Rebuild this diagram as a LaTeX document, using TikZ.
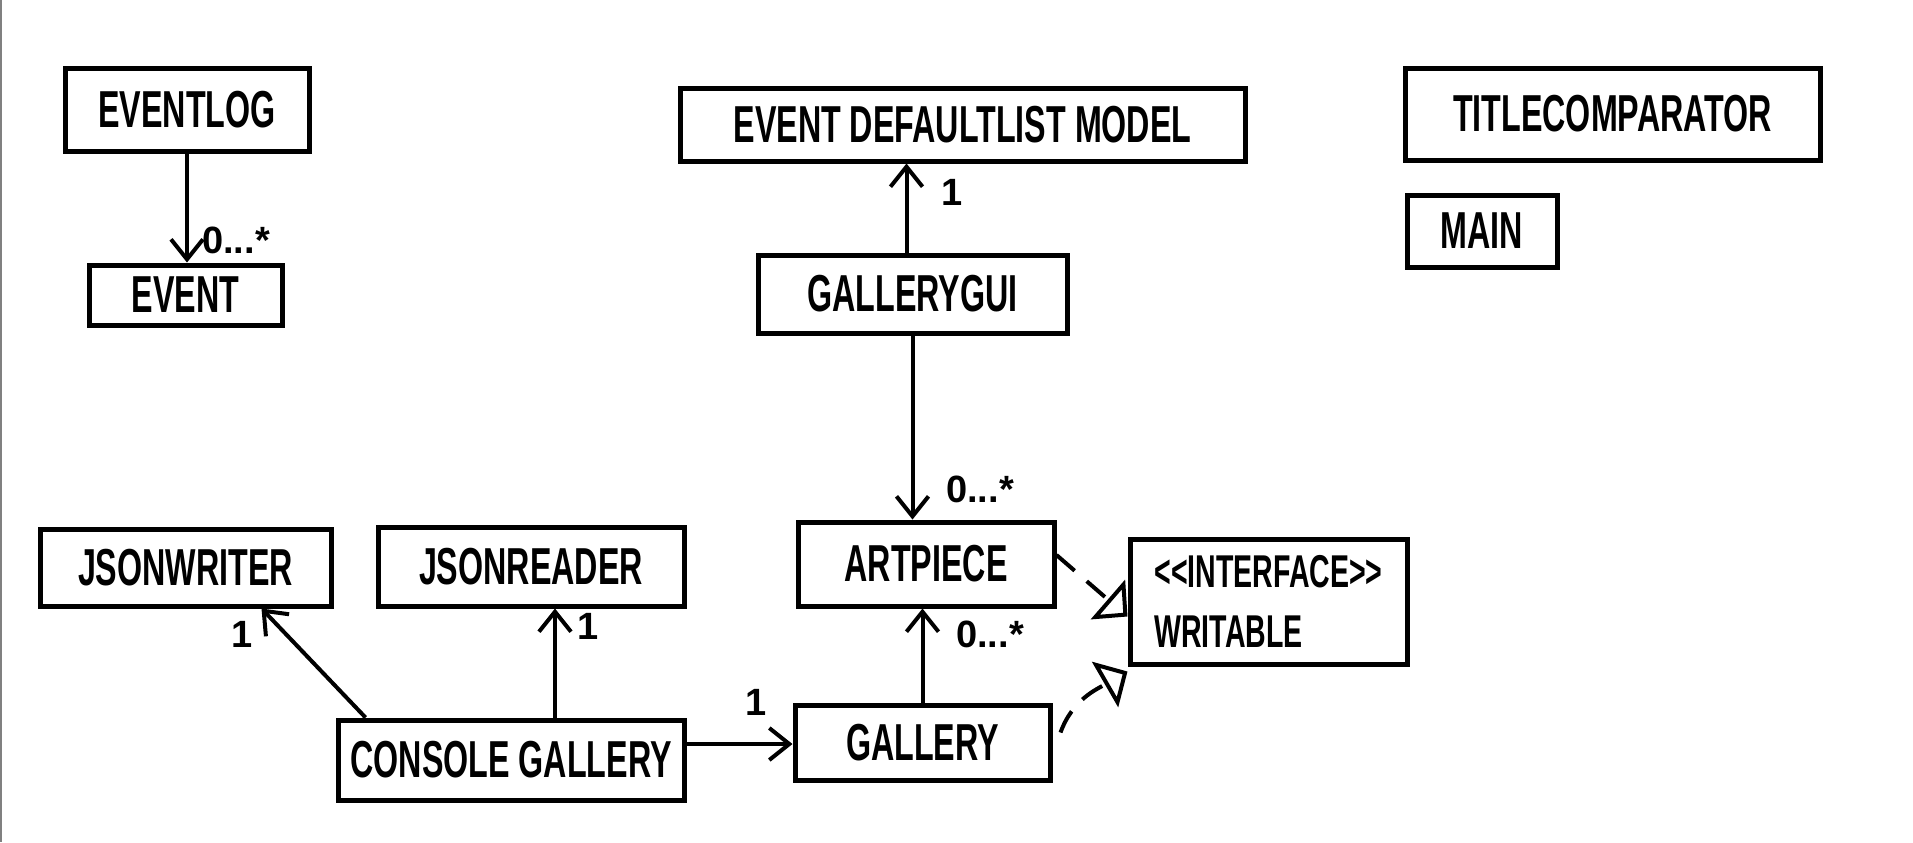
\documentclass[tikz,border=0pt]{standalone}
\usepackage{fontspec}
\setmainfont{Liberation Sans}[FakeStretch=0.62]
\newfontfamily\multfamily{Liberation Sans}
\usetikzlibrary{arrows.meta}
\newcommand*{\boxlw }{2.5pt}
\newcommand*{\arrlw }{2pt}
\newcommand*{\classfont}{\bfseries\fontsize{26}{30}\selectfont}
\newcommand*{\multfont }{\multfamily\bfseries\fontsize{19}{22}\selectfont}

\begin{document}
\begin{tikzpicture}[x=0.5pt, y=-0.5pt,
    class/.style={draw, line width=\boxlw, inner sep=0pt, font=\classfont},
    mult/.style={inner sep=0pt, font=\multfont},
    assoc/.style={line width=\arrlw, -{Straight Barb[length=10pt,width=16pt]}},
    realize/.style={line width=\arrlw, dash pattern=on 12pt off 8pt, -{Triangle[open,length=13pt,width=26pt]}}]
        \useasboundingbox (0,0) rectangle (1913,842);
        \draw [gray, line width=1pt] (1,0) -- (1,842);
        % classes
        \node [class, minimum width=122pt,   minimum height=41.5pt] (eventlog)   at ( 187.0,109.5) {EVENTLOG};
        \node [class, minimum width=96.5pt,  minimum height=30pt  ] (event)      at ( 185.5,295.0) {EVENT};
        \node [class, minimum width=282.5pt, minimum height=36.5pt] (listmodel)  at ( 962.5,124.5) {EVENT DEFAULTLIST MODEL};
        \node [class, minimum width=207.5pt, minimum height=46pt  ] (titlecomp)  at (1612.5,114.0) {TITLECOMPARATOR};
        \node [class, minimum width=75pt,    minimum height=36pt  ] (mainclass)  at (1482.0,231.0) {MAIN};
        \node [class, minimum width=154.5pt, minimum height=39pt  ] (gallerygui) at ( 912.5,294.0) {GALLERYGUI};
        \node [class, minimum width=128pt,   minimum height=42pt  ] (artpiece)   at ( 926.0,564.0) {ARTPIECE};
        \node [class, minimum width=138.5pt, minimum height=62.5pt, align=left, font=\bfseries\fontsize{23}{30}\selectfont] (writable) at (1268.5,601.5) {<{}<INTERFACE>{}>\\WRITABLE};
        \node [class, minimum width=145.5pt, minimum height=38.5pt] (jsonwriter) at ( 185.5,567.5) {JSONWRITER};
        \node [class, minimum width=153pt,   minimum height=39.5pt] (jsonreader) at ( 531.0,566.5) {JSONREADER};
        \node [class, minimum width=173pt,   minimum height=40pt  ] (console)    at ( 511.0,760.0) {CONSOLE GALLERY};
        \node [class, minimum width=127.5pt, minimum height=37.5pt] (gallery)    at ( 922.5,742.5) {GALLERY};
        % associations
        \draw [assoc] (eventlog.south) -- (eventlog.south |- event.north);
        \draw [assoc] ([xshift=-3pt]gallerygui.north) -- ([xshift=-3pt]gallerygui.north |- listmodel.south);
        \draw [assoc] (gallerygui.south) -- (gallerygui.south |- artpiece.north);
        \draw [assoc] (gallery.north) -- (gallery.north |- artpiece.south);
        \draw [assoc] ([xshift=22pt]console.north) -- ([xshift=22pt]console.north |- jsonreader.south);
        \draw [assoc] ([xshift=15pt]console.north west) -- ([xshift=38pt]jsonwriter.south);
        \draw [assoc] ([yshift=8pt]console.east) -- ([yshift=8pt]console.east -| gallery.west);
        % realizations
        \draw [realize] ([yshift=4.5pt]artpiece.east) -- ([yshift=-7.5pt]writable.west);
        \draw [realize] ([xshift=4pt,yshift=5pt]gallery.east) to[out=70, in=210] ([yshift=-35pt]writable.west);
        % multiplicities
        \node [mult] (m-event)   at (236,240) {0...*};
        \node [mult] (m-model)   at (952,192) {1};
        \node [mult] (m-artgui)  at (980,489) {0...*};
        \node [mult] (m-artgal)  at (990,634) {0...*};
        \node [mult] (m-writer)  at (242,634) {1};
        \node [mult] (m-reader)  at (588,626) {1};
        \node [mult] (m-gallery) at (756,702) {1};
    \end{tikzpicture}
\end{document}
